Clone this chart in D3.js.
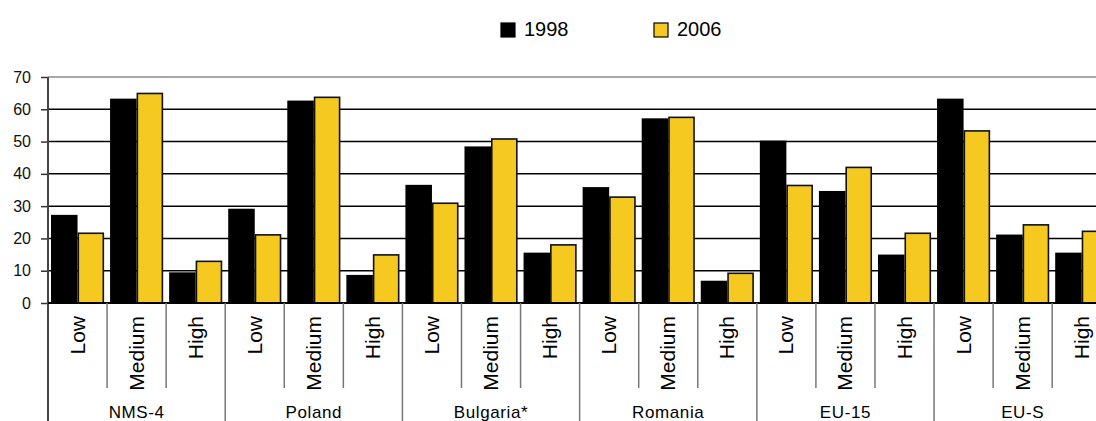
<!DOCTYPE html>
<html>
<head>
<meta charset="utf-8">
<script src="https://cdn.jsdelivr.net/npm/d3@7"></script>
<style>
html,body{margin:0;padding:0;background:#fff;}
svg{display:block;font-family:Arial,"Liberation Sans",sans-serif;}
</style>
</head>
<body>
<svg id="chart" width="1096" height="421"></svg>
<script>
const groups = ["NMS-4", "Poland", "Bulgaria*", "Romania", "EU-15", "EU-S"];
const levels = ["Low", "Medium", "High"];
const seriesNames = ["1998", "2006"];
const values1998 = [27.3, 63.3, 9.5, 29.2, 62.7, 8.7, 36.6, 48.5, 15.6, 35.9, 57.2, 6.9, 50.3, 34.7, 15.0, 63.3, 21.2, 15.6];
const values2006 = [21.6, 64.9, 12.9, 21.1, 63.7, 14.9, 30.9, 50.8, 18.0, 32.8, 57.5, 9.2, 36.4, 42.0, 21.6, 53.3, 24.2, 22.2];
const yTicks = [0, 10, 20, 30, 40, 50, 60, 70];
const colors = ["#000000", "#F5C91F"];

const svg = d3.select("#chart");
const W = 1096, H = 421;
const x0 = 48, slotW = 59.07;
const yTop = 77, yZero = 303;

const rows = [];
groups.forEach((g, gi) => levels.forEach((l, li) => {
  const i = gi * 3 + li;
  rows.push({key: g + "|" + l, group: g, level: l, vals: [values1998[i], values2006[i]]});
}));

const x = d3.scaleBand().domain(rows.map(r => r.key)).range([x0, x0 + slotW * rows.length]).padding(0);
const xGroup = d3.scaleBand().domain(groups).range([x0, x0 + slotW * rows.length]).padding(0);
const xs = d3.scaleBand().domain(seriesNames).range([3, slotW - 3]).padding(0);
const y = d3.scaleLinear().domain([0, 70]).range([yZero, yTop]);

// gridlines
svg.append("g").selectAll("line").data(yTicks.filter(t => t > 0 && t < 70)).join("line")
  .attr("x1", x0).attr("x2", W).attr("y1", d => y(d)).attr("y2", d => y(d))
  .attr("stroke", "#000").attr("stroke-width", 1.5);
svg.append("line").attr("x1", x0).attr("x2", W).attr("y1", y(70)).attr("y2", y(70))
  .attr("stroke", "#a8a8a8").attr("stroke-width", 2);

// bars
const slots = svg.append("g").selectAll("g").data(rows).join("g")
  .attr("transform", d => `translate(${x(d.key)},0)`);
slots.selectAll("rect").data(d => d.vals.map((v, i) => ({v, s: seriesNames[i], i}))).join("rect")
  .attr("x", d => xs(d.s) + (d.i === 1 ? 0.75 : 0))
  .attr("width", d => xs.bandwidth() - (d.i === 1 ? 1.5 : 0))
  .attr("y", d => y(d.v))
  .attr("height", d => yZero - y(d.v))
  .attr("fill", d => colors[d.i])
  .attr("stroke", d => d.i === 1 ? "#111" : "none")
  .attr("stroke-width", 1.6);

// y axis
const yAxis = svg.append("g").attr("transform", `translate(${x0},0)`)
  .call(d3.axisLeft(y).tickValues(yTicks).tickSize(7).tickPadding(10));
yAxis.select(".domain").remove();
yAxis.selectAll(".tick line").attr("stroke", "#333").attr("stroke-width", 1.5);
yAxis.selectAll(".tick text").attr("font-size", 16).attr("fill", "#111")
  .attr("font-family", "Arial, 'Liberation Sans', sans-serif");
svg.append("line").attr("x1", x0).attr("x2", x0).attr("y1", yTop).attr("y2", H)
  .attr("stroke", "#444").attr("stroke-width", 2);

// zero line
svg.append("line").attr("x1", x0).attr("x2", W).attr("y1", yZero).attr("y2", yZero)
  .attr("stroke", "#000").attr("stroke-width", 2);

// subcategory separators
svg.append("g").selectAll("line").data(rows.filter((r, i) => i % 3 !== 0)).join("line")
  .attr("x1", d => x(d.key)).attr("x2", d => x(d.key))
  .attr("y1", yZero).attr("y2", 388)
  .attr("stroke", "#777").attr("stroke-width", 1.5);
// group separators
svg.append("g").selectAll("line").data(groups.slice(1)).join("line")
  .attr("x1", d => xGroup(d)).attr("x2", d => xGroup(d))
  .attr("y1", yZero).attr("y2", H)
  .attr("stroke", "#777").attr("stroke-width", 1.5);

// level labels
svg.append("g").selectAll("text").data(rows).join("text")
  .attr("transform", d => `translate(${x(d.key) + slotW / 2 + 7},316) rotate(-90)`)
  .attr("text-anchor", "end")
  .attr("font-size", 21).attr("fill", "#000")
  .text(d => d.level);

// group labels
svg.append("g").selectAll("text").data(groups).join("text")
  .attr("x", d => xGroup(d) + xGroup.bandwidth() / 2)
  .attr("y", 418)
  .attr("text-anchor", "middle")
  .attr("font-size", 17).attr("letter-spacing", 0.6).attr("fill", "#000")
  .text(d => d);

// legend
const legendX = [501, 654];
const lg = svg.append("g").selectAll("g").data(seriesNames).join("g")
  .attr("transform", (d, i) => `translate(${legendX[i]},23)`);
lg.append("rect").attr("width", 14).attr("height", 14)
  .attr("fill", (d, i) => colors[i]).attr("stroke", "#000").attr("stroke-width", 1.2);
lg.append("text").attr("x", 23).attr("y", 13).attr("font-size", 20).attr("fill", "#000").text(d => d);
</script>
</body>
</html>
